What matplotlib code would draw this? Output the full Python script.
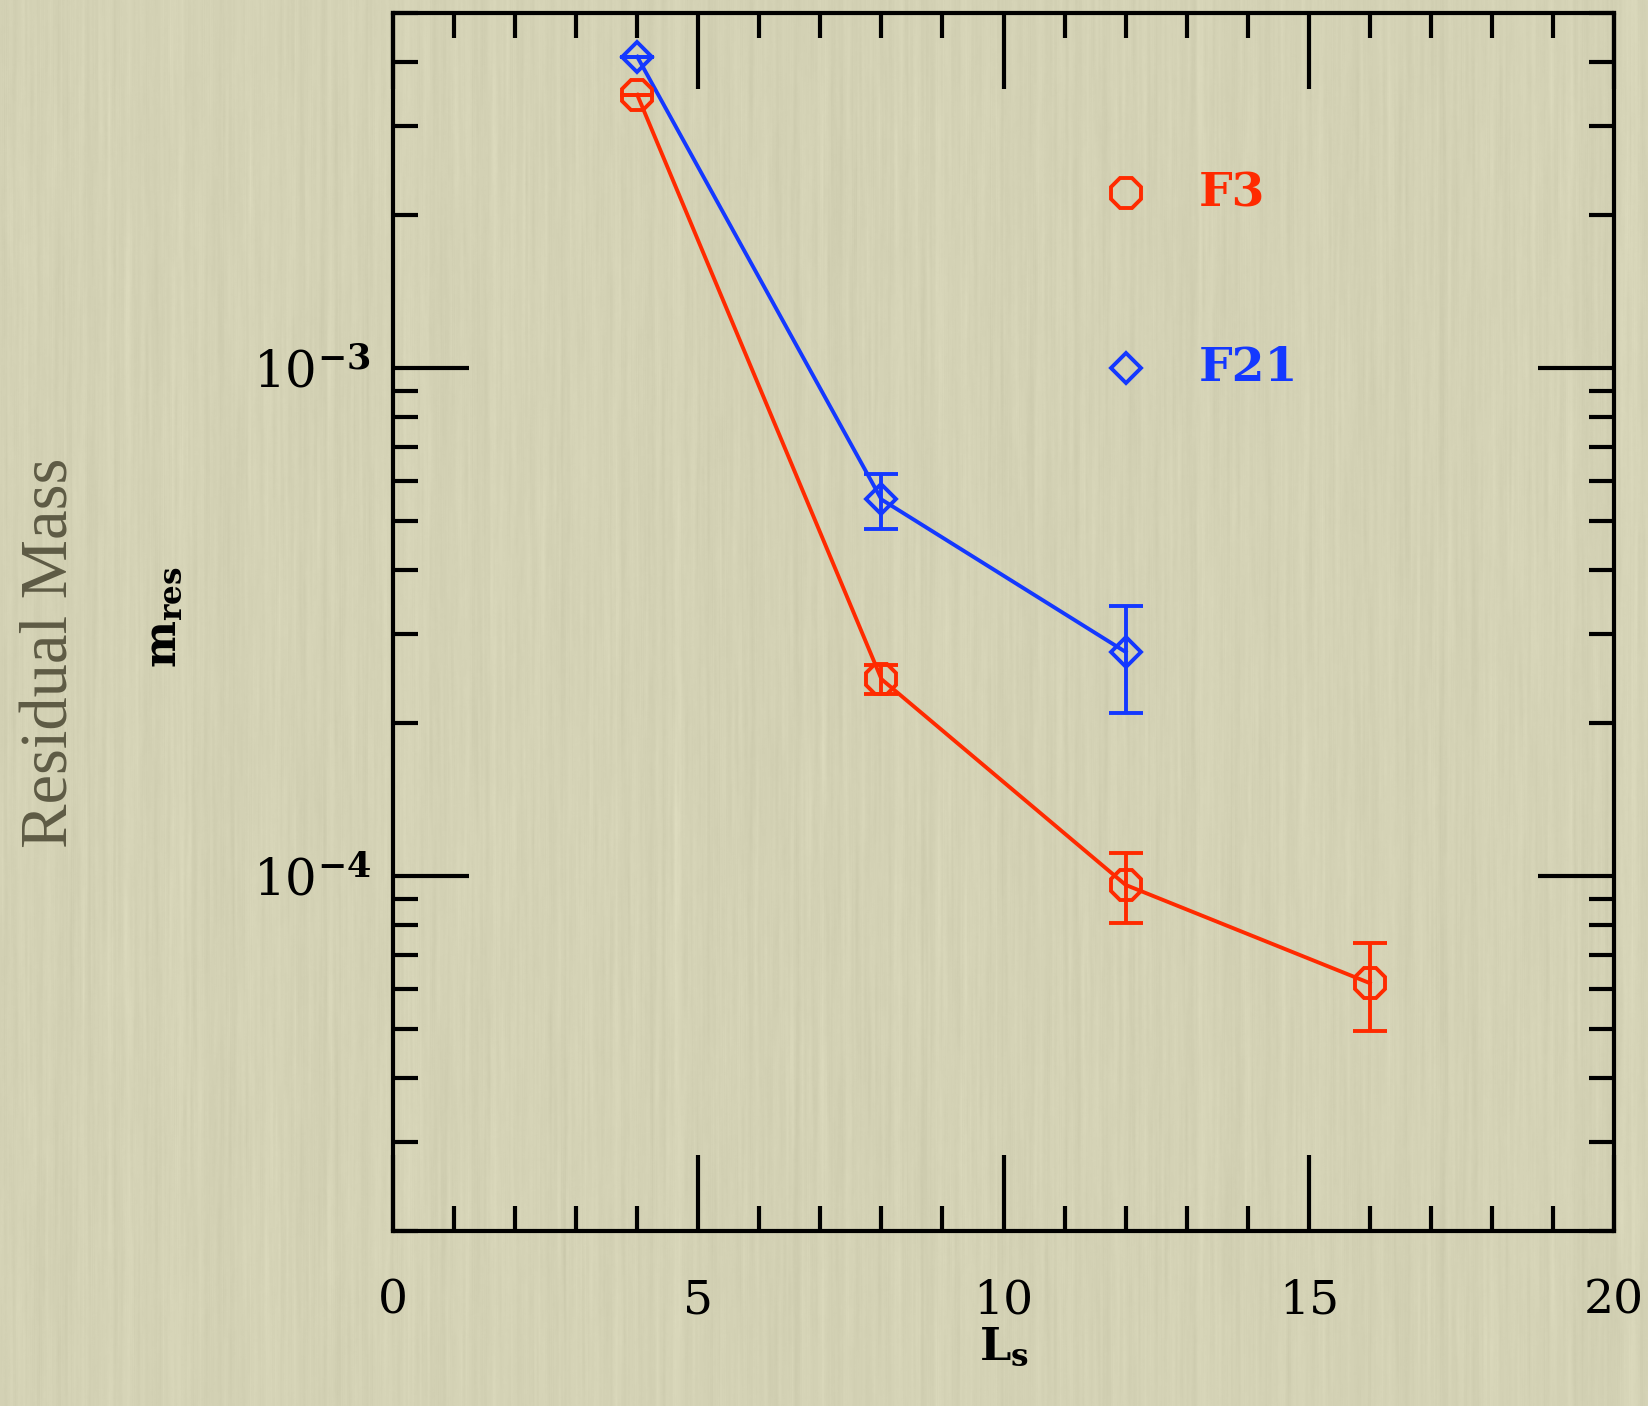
import numpy as np
import matplotlib.pyplot as plt
from matplotlib.ticker import FixedLocator, LogLocator, NullFormatter, FuncFormatter

# data
L_f3 = [4, 8, 12, 16]
m_f3 = [3.45e-3, 2.44e-4, 9.6e-5, 6.15e-5]
m_f3_hi = [3.45e-3, 2.60e-4, 1.11e-4, 7.37e-5]
m_f3_lo = [3.45e-3, 2.28e-4, 8.07e-5, 4.94e-5]

L_f21 = [4, 8, 12]
m_f21 = [4.1e-3, 5.51e-4, 2.76e-4]
m_f21_hi = [4.1e-3, 6.18e-4, 3.40e-4]
m_f21_lo = [4.1e-3, 4.82e-4, 2.09e-4]

red = '#ff2a00'
blue = '#1438ff'
paper = np.array([212, 210, 181]) / 255.0

plt.rcParams['mathtext.fontset'] = 'dejavuserif'
plt.rcParams['font.family'] = 'DejaVu Serif'

fig = plt.figure(figsize=(16.48, 14.06), dpi=100)
fig.patch.set_facecolor(paper)

# streaky paper background, vertical grain
rng = np.random.default_rng(3)
H, W = 1406, 1648
cols = rng.normal(0, 1, W)
cols = np.convolve(cols, np.ones(6) / 6, mode='same')
grain = rng.normal(0, 1, (H, W))
k = np.ones(120) / np.sqrt(120)
grain = np.apply_along_axis(lambda c: np.convolve(c, k, mode='same'), 0, grain)
grain = np.apply_along_axis(lambda r: np.convolve(r, np.ones(3) / 3, mode='same'), 1, grain)
tex = 0.7 * cols[None, :] + 0.5 * grain
tex = np.clip(tex, -2.5, 2.5) * 0.02
img = np.clip(paper[None, None, :] + tex[:, :, None], 0, 1)
fig.figimage(img, 0, 0, zorder=-5)

ax = fig.add_axes([0.2385, 0.1245, 0.9794 - 0.2385, 0.9908 - 0.1245])
ax.set_zorder(2)
ax.set_facecolor('none')
ax.set_yscale('log')
ax.set_xlim(0, 20)
ax.set_ylim(2e-5, 5e-3)

def draw(x, y, lo, hi, color, marker, ms):
    ax.plot(x, y, '-', color=color, lw=2.8, zorder=3)
    yerr = [np.array(y) - np.array(lo), np.array(hi) - np.array(y)]
    ax.errorbar(x, y, yerr=yerr, fmt='none', ecolor=color, elinewidth=2.8,
                capsize=12, capthick=2.8, zorder=3)
    ax.plot(x, y, marker, mfc='none', mec=color, mew=2.8, ms=ms, ls='none', zorder=4)

draw(L_f3, m_f3, m_f3_lo, m_f3_hi, red, '8', 23)
draw(L_f21, m_f21, m_f21_lo, m_f21_hi, blue, 'D', 15)

# key
ax.plot([12], [2.21e-3], '8', mfc='none', mec=red, mew=2.8, ms=23)
ax.plot([12], [1.0e-3], 'D', mfc='none', mec=blue, mew=2.8, ms=15)
ax.text(13.2, 2.21e-3, 'F3', color=red, fontsize=34, fontweight='bold',
        family='DejaVu Serif', va='center', ha='left')
ax.text(13.2, 1.0e-3, 'F21', color=blue, fontsize=34, fontweight='bold',
        family='DejaVu Serif', va='center', ha='left')

# ticks
ax.xaxis.set_major_locator(FixedLocator([0, 5, 10, 15, 20]))
ax.xaxis.set_minor_locator(FixedLocator(np.arange(0, 21, 1)))
ax.yaxis.set_major_locator(LogLocator(base=10))
ax.yaxis.set_minor_locator(LogLocator(base=10, subs=np.arange(2, 10)))
ax.yaxis.set_minor_formatter(NullFormatter())
ax.yaxis.set_major_formatter(FuncFormatter(lambda v, p: r'$10^{\mathbf{%d}}$' % round(np.log10(v))))
ax.tick_params(which='both', direction='in', top=True, right=True, color='black')
ax.tick_params(which='major', length=55, width=3)
ax.tick_params(which='minor', length=18, width=3)
ax.tick_params(axis='x', which='major', labelsize=34, pad=34)
ax.tick_params(axis='y', which='major', labelsize=36, pad=16)
for s in ax.spines.values():
    s.set_linewidth(3)

ax.set_xlabel(r'$\mathbf{L_s}$', fontsize=32, labelpad=2)
fig.text(0.099, 0.561, r'$\mathbf{m_{res}}$', fontsize=32, rotation=90,
         ha='center', va='center')
fig.text(0.031, 0.536, 'Residual Mass', fontsize=48, rotation=90,
         ha='center', va='center', color='#5e5b45', family='Liberation Serif')

plt.savefig('out.png', dpi=100, facecolor=fig.get_facecolor())
